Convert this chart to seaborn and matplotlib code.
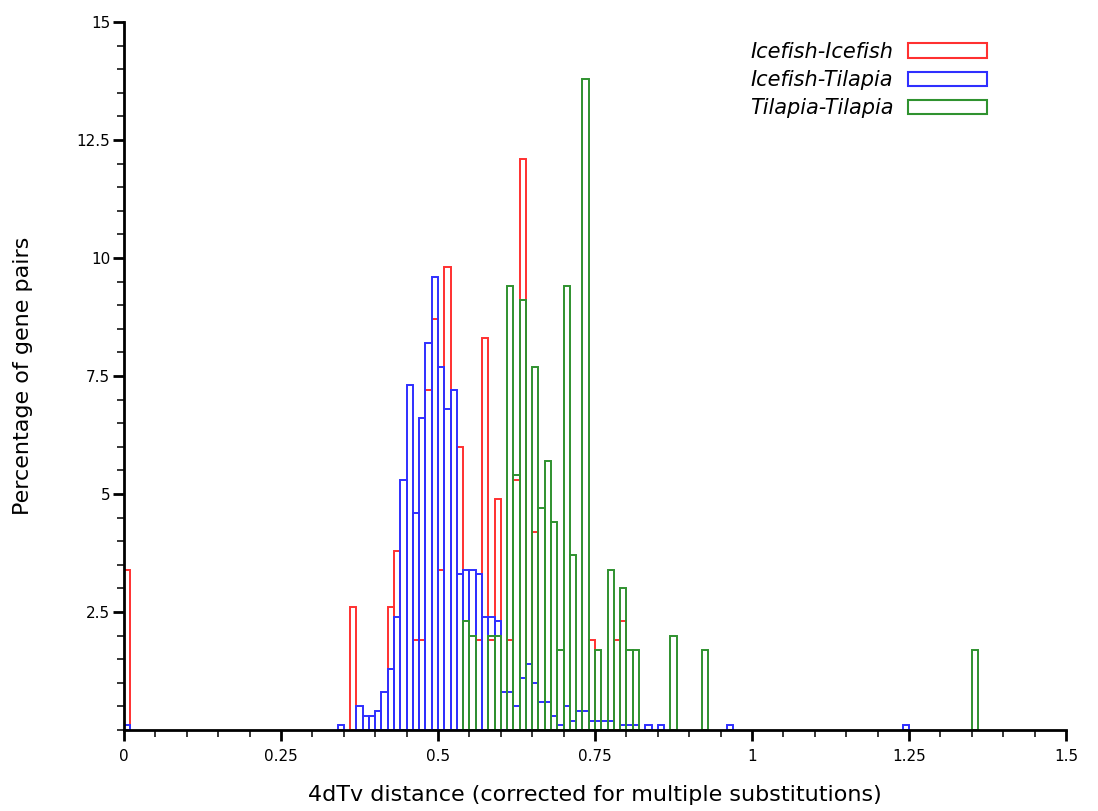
import numpy as np
import pandas as pd
import matplotlib
matplotlib.use("Agg")
import matplotlib.pyplot as plt
from matplotlib.patches import Patch
from matplotlib.ticker import MultipleLocator
import seaborn as sns

# ---- data: left edge of each 0.01 bin and its percentage of gene pairs ----
ii_bins = [0.00, 0.36, 0.42, 0.43, 0.46, 0.47, 0.48, 0.49, 0.50, 0.51, 0.53,
           0.56, 0.57, 0.58, 0.59, 0.61, 0.62, 0.63, 0.65, 0.74, 0.78, 0.79]
ii_pct = [3.4, 2.6, 2.6, 3.8, 1.9, 1.9, 7.2, 8.7, 3.4, 9.8, 6.0,
          1.9, 8.3, 1.9, 4.9, 1.9, 5.3, 12.1, 4.2, 1.9, 1.9, 2.3]

it_bins = [0.00, 0.34, 0.37, 0.38, 0.39, 0.40, 0.41, 0.42, 0.43, 0.44, 0.45,
           0.46, 0.47, 0.48, 0.49, 0.50, 0.51, 0.52, 0.53, 0.54, 0.55, 0.56,
           0.57, 0.58, 0.59, 0.60, 0.61, 0.62, 0.63, 0.64, 0.65, 0.66, 0.67,
           0.68, 0.69, 0.70, 0.71, 0.72, 0.73, 0.74, 0.75, 0.76, 0.77, 0.79,
           0.80, 0.81, 0.83, 0.85, 0.96, 1.24]
it_pct = [0.1, 0.1, 0.5, 0.3, 0.3, 0.4, 0.8, 1.3, 2.4, 5.3, 7.3,
          4.6, 6.6, 8.2, 9.6, 7.7, 6.8, 7.2, 3.3, 3.4, 3.4, 3.3,
          2.4, 2.4, 2.3, 0.8, 0.8, 0.5, 1.1, 1.4, 1.0, 0.6, 0.6,
          0.3, 0.1, 0.5, 0.2, 0.4, 0.4, 0.2, 0.2, 0.2, 0.2, 0.1,
          0.1, 0.1, 0.1, 0.1, 0.1, 0.1]

tt_bins = [0.54, 0.55, 0.58, 0.59, 0.61, 0.62, 0.63, 0.65, 0.66, 0.67, 0.68,
           0.69, 0.70, 0.71, 0.73, 0.75, 0.77, 0.79, 0.80, 0.81, 0.87, 0.92,
           1.35]
tt_pct = [2.3, 2.0, 2.0, 2.0, 9.4, 5.4, 9.1, 7.7, 4.7, 5.7, 4.4,
          1.7, 9.4, 3.7, 13.8, 1.7, 3.4, 3.0, 1.7, 1.7, 2.0, 1.7,
          1.7]

labels = ["Icefish-Icefish", "Icefish-Tilapia", "Tilapia-Tilapia"]
colors = ["#ff3030", "#2f2fff", "#2f922f"]

BIN_W = 0.01
edges = [round(i * BIN_W, 2) for i in range(151)]

frames = []
for lab, b, p in zip(labels, [ii_bins, it_bins, tt_bins], [ii_pct, it_pct, tt_pct]):
    frames.append(pd.DataFrame({"dist": np.array(b) + BIN_W / 2, "pct": p, "pair": lab}))
df = pd.concat(frames, ignore_index=True)

# ---- figure ----
sns.set_theme(style="ticks")
plt.rcParams["font.family"] = ["DejaVu Sans"]
plt.rcParams["text.color"] = "black"
plt.rcParams["axes.labelcolor"] = "black"

fig = plt.figure(figsize=(10.98, 8.11), dpi=100)
ax = fig.add_axes([124 / 1098, 1 - 730 / 811, 942 / 1098, 708 / 811])

# red first, blue over it, green on top (same as the reference)
for lab, col in zip(labels, colors):
    sns.histplot(data=df[df["pair"] == lab], x="dist", weights="pct",
                 bins=edges, element="bars", fill=False, color=col,
                 linewidth=1.4, ax=ax)

# empty bins would otherwise leave flat outlines on the baseline
for p in list(ax.patches):
    if p.get_height() == 0:
        p.remove()

ax.set_xlim(0, 1.5)
ax.set_ylim(0, 15)
sns.despine(ax=ax)
for s in ["left", "bottom"]:
    ax.spines[s].set_linewidth(2)
    ax.spines[s].set_color("black")

ax.xaxis.set_minor_locator(MultipleLocator(0.05))
ax.yaxis.set_minor_locator(MultipleLocator(0.5))
ax.set_xticks([0, 0.25, 0.5, 0.75, 1, 1.25, 1.5])
ax.set_xticklabels(["0", "0.25", "0.5", "0.75", "1", "1.25", "1.5"])
ax.set_yticks([2.5, 5, 7.5, 10, 12.5, 15])
ax.set_yticklabels(["2.5", "5", "7.5", "10", "12.5", "15"])
ax.tick_params(which="major", direction="out", length=8, width=2,
               labelsize=11, colors="black")
ax.tick_params(which="minor", direction="out", length=5, width=1.3)
ax.tick_params(axis="x", which="major", pad=6)
ax.tick_params(axis="y", which="major", pad=2)

ax.set_xlabel("4dTv distance (corrected for multiple substitutions)", fontsize=16)
ax.set_ylabel("Percentage of gene pairs", fontsize=16)
ax.xaxis.set_label_coords(0.5, -0.077)
ax.yaxis.set_label_coords(-0.097, 0.5)

handles = [Patch(facecolor="none", edgecolor=c, linewidth=1.5) for c in colors]
ax.legend(handles, labels, loc="upper right", bbox_to_anchor=(0.916, 0.972),
          frameon=False, markerfirst=False, borderpad=0, borderaxespad=0,
          handlelength=3.8, handleheight=0.7, handletextpad=0.7,
          labelspacing=0.4, prop={"style": "italic", "size": 15})

plt.savefig("out.png", dpi=100)
plt.close()
